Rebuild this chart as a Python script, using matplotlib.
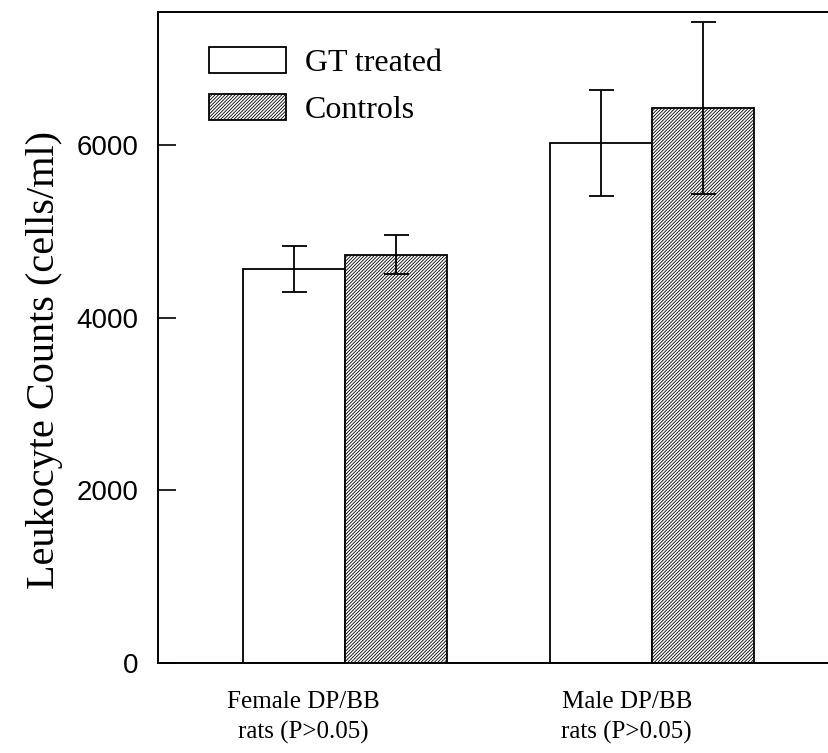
import numpy as np
import matplotlib
matplotlib.use('Agg')
from matplotlib import pyplot as plt

# values
groups = ['Female DP/BB\nrats (P>0.05)', 'Male DP/BB\nrats (P>0.05)']
gt_treated = [4565, 6020]
gt_err = [265, 615]
controls = [4730, 6430]
controls_err = [225, 995]
yticks = [0, 2000, 4000, 6000]

plt.rcParams['hatch.linewidth'] = 0.6
plt.rcParams['hatch.color'] = 'black'

fig = plt.figure(figsize=(8.29, 7.53), dpi=100)
ax = fig.add_axes([0.1906, 0.1195, 0.8094, 0.8645])

x = np.arange(len(groups))
w = 0.332
ax.bar(x - w / 2, gt_treated, w, facecolor='white', edgecolor='black', linewidth=1.3,
       label='GT treated')
ax.bar(x + w / 2, controls, w, facecolor='white', edgecolor='black', linewidth=1.3,
       hatch='//////////', label='Controls')
ax.errorbar(x - w / 2, gt_treated, yerr=gt_err, fmt='none', ecolor='black',
            elinewidth=1.3, capsize=9, capthick=1.3)
ax.errorbar(x + w / 2, controls, yerr=controls_err, fmt='none', ecolor='black',
            elinewidth=1.3, capsize=9, capthick=1.3)

ax.set_xlim(-0.609, 1.577)
ax.set_ylim(0, 7540)
ax.set_yticks(yticks)
ax.set_yticklabels([str(v) for v in yticks], family='Liberation Sans', fontsize=20)
ax.tick_params(axis='y', direction='in', length=13, width=1.2, pad=14)

# tick labels sit a little left of the group centres in the original
ax.set_xticks([-0.137, 0.918])
ax.set_xticklabels(groups, family='Liberation Serif', fontsize=18, linespacing=1.45)
ax.tick_params(axis='x', length=0, pad=20)

ax.set_ylabel('Leukocyte Counts (cells/ml)', family='Liberation Serif', fontsize=29)
ax.yaxis.set_label_coords(-0.142, 0.465)

for s in ['left', 'bottom', 'top']:
    ax.spines[s].set_linewidth(1.4)
ax.spines['right'].set_visible(False)

ax.legend(loc='upper left', bbox_to_anchor=(0.033, 0.99), frameon=False,
          prop={'family': 'Liberation Serif', 'size': 23},
          handlelength=2.4, handleheight=0.85, handletextpad=0.6, labelspacing=0.5)

fig.savefig('out.png', dpi=100)
